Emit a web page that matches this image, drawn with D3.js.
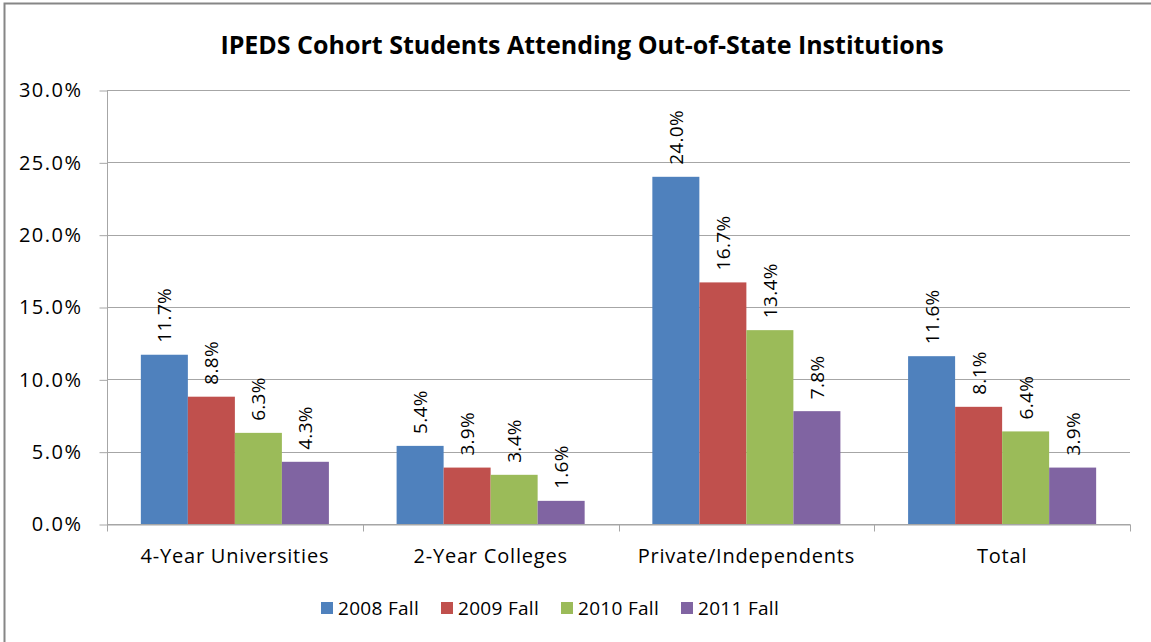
<!DOCTYPE html>
<html>
<head>
<meta charset="utf-8">
<script src="https://cdn.jsdelivr.net/npm/d3@7"></script>
<style>
  body { margin: 0; background: #fff; }
  text { font-family: "Open Sans", "Noto Sans", sans-serif; fill: #000; }
</style>
</head>
<body>
<div id="chart"></div>
<script>
// chart data
const categories = ["4-Year Universities", "2-Year Colleges", "Private/Independents", "Total"];
const seriesNames = ["2008 Fall", "2009 Fall", "2010 Fall", "2011 Fall"];
const fall2008 = [11.7, 5.4, 24.0, 11.6];
const fall2009 = [8.8, 3.9, 16.7, 8.1];
const fall2010 = [6.3, 3.4, 13.4, 6.4];
const fall2011 = [4.3, 1.6, 7.8, 3.9];
const yTicks = [0, 5, 10, 15, 20, 25, 30];
const colors = ["#4F81BD", "#C0504D", "#9BBB59", "#8064A2"];

const w = 1151;
const h = 642;
const margin = {top: 90, right: 21, bottom: 118, left: 107};

const allSeries = [fall2008, fall2009, fall2010, fall2011];

const svg = d3.select("#chart")
  .append("svg")
  .attr("width", w)
  .attr("height", h);

// outer border
svg.append("rect")
  .attr("x", 4.5).attr("y", 3.5)
  .attr("width", w + 10).attr("height", h + 10)
  .attr("fill", "white")
  .attr("stroke", "#868686")
  .attr("stroke-width", 2);

// title
svg.append("text")
  .attr("x", 582)
  .attr("y", 54)
  .attr("text-anchor", "middle")
  .style("font-size", "25px")
  .style("font-weight", "bold")
  .text("IPEDS Cohort Students Attending Out-of-State Institutions");

const xScale = d3.scaleBand()
  .domain(categories)
  .range([margin.left, w - margin.right])
  .paddingInner(0)
  .paddingOuter(0);

const xInner = d3.scaleBand()
  .domain(seriesNames)
  .range([0, xScale.bandwidth()])
  .paddingOuter(0.72)
  .paddingInner(0);

const yScale = d3.scaleLinear()
  .domain([0, 30])
  .range([h - margin.bottom, margin.top]);

// grid lines
svg.append("g")
  .selectAll("line")
  .data(yTicks)
  .enter()
  .append("line")
  .attr("x1", margin.left)
  .attr("x2", w - margin.right)
  .attr("y1", (d) => Math.round(yScale(d)) + 0.5)
  .attr("y2", (d) => Math.round(yScale(d)) + 0.5)
  .attr("stroke", "#a6a6a6")
  .attr("stroke-width", 1);

// y axis
const yAxis = d3.axisLeft(yScale)
  .tickValues(yTicks)
  .tickSize(8)
  .tickPadding(17)
  .tickFormat((d) => d.toFixed(1) + "%");

const yG = svg.append("g")
  .attr("transform", "translate(" + (margin.left + 0.5) + ",0.5)")
  .call(yAxis);
yG.selectAll("line").attr("stroke", "#a6a6a6");
yG.select(".domain").attr("stroke", "#a6a6a6").attr("d", "M0," + yScale(30) + "V" + yScale(0));
yG.selectAll("text")
  .style("font-size", "20px")
  .style("letter-spacing", "1.5px")
  .style("font-family", "'Open Sans', sans-serif")
  .attr("fill", "#000");

// x axis
const xAxis = d3.axisBottom(xScale).tickSize(0).tickPadding(24);
const xG = svg.append("g")
  .attr("transform", "translate(0," + (Math.round(yScale(0)) + 0.5) + ")")
  .call(xAxis);
xG.select(".domain").attr("stroke", "#a6a6a6");
xG.selectAll("text")
  .style("font-size", "20px")
  .style("letter-spacing", "0.8px")
  .style("font-family", "'Open Sans', sans-serif")
  .attr("fill", "#000");

// category boundary ticks
const boundaries = categories.map((c) => xScale(c)).concat([xScale(categories[categories.length - 1]) + xScale.bandwidth()]);
xG.selectAll(".bound")
  .data(boundaries)
  .enter()
  .append("line")
  .attr("class", "bound")
  .attr("x1", (d) => Math.round(d) + 0.5)
  .attr("x2", (d) => Math.round(d) + 0.5)
  .attr("y1", 0)
  .attr("y2", 7)
  .attr("stroke", "#a6a6a6");

// bars
allSeries.forEach(function (vals, si) {
  const g = svg.append("g");
  g.selectAll("rect")
    .data(vals)
    .enter()
    .append("rect")
    .attr("x", (d, i) => xScale(categories[i]) + xInner(seriesNames[si]))
    .attr("y", (d) => yScale(d))
    .attr("width", xInner.bandwidth())
    .attr("height", (d) => yScale(0) - yScale(d))
    .attr("fill", colors[si]);

  // rotated value labels
  g.selectAll("text")
    .data(vals)
    .enter()
    .append("text")
    .attr("transform", (d, i) => {
      const cx = xScale(categories[i]) + xInner(seriesNames[si]) + xInner.bandwidth() / 2 + 7;
      const cy = yScale(d) - 12;
      return "translate(" + cx + "," + cy + ") rotate(-90)";
    })
    .attr("text-anchor", "start")
    .style("font-size", "19px")
    .style("letter-spacing", "0.3px")
    .text((d) => d.toFixed(1) + "%");
});

// legend
const legendX = [321, 441, 561, 681];
const legend = svg.append("g")
  .selectAll("g")
  .data(seriesNames)
  .enter()
  .append("g")
  .attr("transform", (d, i) => "translate(" + legendX[i] + ",602)");

legend.append("rect")
  .attr("width", 12)
  .attr("height", 12)
  .attr("fill", (d, i) => colors[i]);

legend.append("text")
  .attr("x", 17)
  .attr("y", 13)
  .style("font-size", "19px")
  .style("letter-spacing", "0.3px")
  .text((d) => d);
</script>
</body>
</html>
